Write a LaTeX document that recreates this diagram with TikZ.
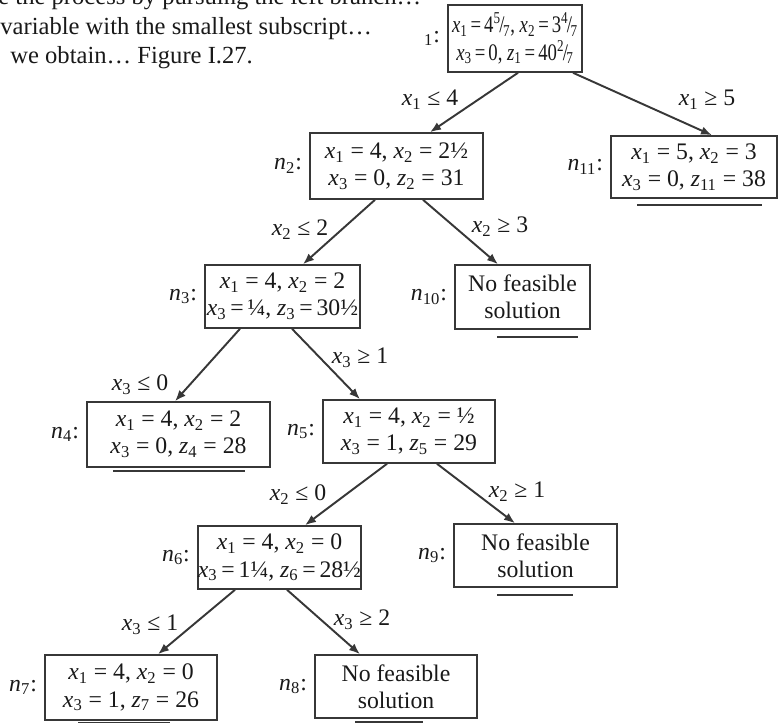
\documentclass[tikz,border=0pt]{standalone}
\usepackage{fontspec}
\setmainfont{Liberation Serif}
\usetikzlibrary{arrows.meta,positioning,calc}
\definecolor{Ink}{RGB}{25,25,25}
\definecolor{Wire}{RGB}{55,55,55}
\newcommand{\xv}[1]{\textit{x}\textsubscript{#1}}
\newcommand{\zv}[1]{\textit{z}\textsubscript{#1}}
\newcommand{\nv}[1]{\textit{n}\textsubscript{#1}:}
\newcommand{\fr}[2]{\textsuperscript{#1}\kern-.08em/\kern-.08em\textsubscript{#2}}
\newcommand{\eq}{\hspace{.16em}=\hspace{.16em}}
\newcommand{\squeeze}[1]{\scalebox{.79}[1]{#1}}
\tikzset{
  >=Latex,
  sol/.style={draw=Wire,line width=0.9pt,align=center,text=Ink,font=\fontsize{13.5}{15.5}\selectfont,inner sep=0pt},
  nlabel/.style={text=Ink,font=\fontsize{13.5}{15}\selectfont,inner sep=0pt},
  cut/.style={text=Ink,font=\fontsize{13.5}{15}\selectfont,inner sep=0pt},
  branch/.style={-{Latex[length=2.2mm,width=1.7mm]},line width=1.1pt,draw=Wire},
  uline/.style={line width=1.1pt,draw=Wire},
  prose/.style={text=Ink,font=\fontsize{14}{17}\selectfont,anchor=base west,inner sep=0pt}
}
\begin{document}
\begin{tikzpicture}[x=0.02cm,y=-0.02cm]
  \useasboundingbox (0,0) rectangle (784,723);
  \clip (0,0) rectangle (784,723);
  % text above the tree
  \node[prose] (p1) at (-2,5) {e the process by pursuing the left branch…};
  \node[prose] (p2) at (0,35) {variable with the smallest subscript…};
  \node[prose] (p3) at (10,64) {we obtain… Figure I.27.};
  % subproblems
  \node[sol,minimum width=2.68cm,minimum height=1.34cm] (n1) at (515,38.5) {\squeeze{\xv1\eq4\fr57, \xv2\eq3\fr47}\\\squeeze{\xv3\eq0, \zv1\eq40\fr27}};
  \node[sol,minimum width=3.46cm,minimum height=1.32cm] (n2) at (396.5,166) {\xv1 = 4, \xv2 = 2½\\\xv3 = 0, \zv2 = 31};
  \node[sol,minimum width=3.32cm,minimum height=1.24cm] (n11) at (694,167) {\xv1 = 5, \xv2 = 3\\\xv3 = 0, \zv{11} = 38};
  \node[sol,minimum width=3.10cm,minimum height=1.26cm] (n3) at (282.5,296.5) {\xv1 = 4, \xv2 = 2\\\xv3\eq¼, \zv3\eq30½};
  \node[sol,minimum width=2.70cm,minimum height=1.28cm] (n10) at (522.5,297) {No feasible\\solution};
  \node[sol,minimum width=3.66cm,minimum height=1.30cm] (n4) at (178.5,434.5) {\xv1 = 4, \xv2 = 2\\\xv3 = 0, \zv4 = 28};
  \node[sol,minimum width=3.44cm,minimum height=1.26cm] (n5) at (409,431.5) {\xv1 = 4, \xv2 = ½\\\xv3 = 1, \zv5 = 29};
  \node[sol,minimum width=3.06cm,minimum height=1.26cm] (n6) at (279.5,557.5) {\xv1 = 4, \xv2 = 0\\\xv3\eq1¼, \zv6\eq28½};
  \node[sol,minimum width=3.26cm,minimum height=1.26cm] (n9) at (535.5,555.5) {No feasible\\solution};
  \node[sol,minimum width=3.44cm,minimum height=1.30cm] (n7) at (131,687.5) {\xv1 = 4, \xv2 = 0\\\xv3 = 1, \zv7 = 26};
  \node[sol,minimum width=3.24cm,minimum height=1.26cm] (n8) at (396,686.5) {No feasible\\solution};
  % names
  \node[nlabel,left=4pt of n1] (l1) {\textsubscript{1}:};
  \node[nlabel,left=4pt of n2] (l2) {\nv2};
  \node[nlabel,left=4pt of n11] (l11) {\nv{11}};
  \node[nlabel,left=4pt of n3] (l3) {\nv3};
  \node[nlabel,left=4pt of n10] (l10) {\nv{10}};
  \node[nlabel,left=4pt of n4] (l4) {\nv4};
  \node[nlabel,left=4pt of n5] (l5) {\nv5};
  \node[nlabel,left=4pt of n6] (l6) {\nv6};
  \node[nlabel,left=4pt of n9] (l9) {\nv9};
  \node[nlabel,left=4pt of n7] (l7) {\nv7};
  \node[nlabel,left=4pt of n8] (l8) {\nv8};
  % branches
  \draw[branch] ($(n1.south)+(3,0)$) -- ($(n2.north)+(33.5,0)$);
  \draw[branch] ($(n1.south)+(58,0)$) -- ($(n11.north)+(18,0)$);
  \draw[branch] ($(n2.south)+(-21.5,0)$) -- ($(n3.north)+(20.5,0)$);
  \draw[branch] ($(n2.south)+(26.5,0)$) -- ($(n10.north)+(-24.5,0)$);
  \draw[branch] ($(n3.south)+(-42.5,0)$) -- ($(n4.north)+(-3.5,0)$);
  \draw[branch] ($(n3.south)+(9.5,0)$) -- ($(n5.north)+(-49,0)$);
  \draw[branch] ($(n5.south)+(-22,0)$) -- ($(n6.north)+(25.5,0)$);
  \draw[branch] ($(n5.south)+(28,0)$) -- ($(n9.north)+(-20.5,0)$);
  \draw[branch] ($(n6.south)+(-44.5,0)$) -- ($(n7.north)+(27,0)$);
  \draw[branch] ($(n6.south)+(7.5,0)$) -- ($(n8.north)+(-36,0)$);
  % branching constraints
  \node[cut] (c1l) at (430,100) {\xv1 ≤ 4};
  \node[cut] (c1r) at (707,100) {\xv1 ≥ 5};
  \node[cut] (c2l) at (300,230) {\xv2 ≤ 2};
  \node[cut] (c2r) at (500,227) {\xv2 ≥ 3};
  \node[cut] (c3l) at (140,385) {\xv3 ≤ 0};
  \node[cut] (c3r) at (360,358) {\xv3 ≥ 1};
  \node[cut] (c5l) at (298,495) {\xv2 ≤ 0};
  \node[cut] (c5r) at (517,492) {\xv2 ≥ 1};
  \node[cut] (c6l) at (150,625) {\xv3 ≤ 1};
  \node[cut] (c6r) at (362,620) {\xv3 ≥ 2};
  % fathomed nodes
  \draw[uline] ($(n11.south)+(-57,6)$) -- ($(n11.south)+(68,6)$);
  \draw[uline] ($(n10.south)+(-25.5,7)$) -- ($(n10.south)+(55,7)$);
  \draw[uline] ($(n4.south)+(-65.5,3)$) -- ($(n4.south)+(66.5,3)$);
  \draw[uline] ($(n9.south)+(-38.5,7)$) -- ($(n9.south)+(37.5,7)$);
  \draw[uline] ($(n7.south)+(-53,2)$) -- ($(n7.south)+(39,2)$);
  \draw[uline] ($(n8.south)+(-41,3)$) -- ($(n8.south)+(27,3)$);
\end{tikzpicture}
\end{document}
